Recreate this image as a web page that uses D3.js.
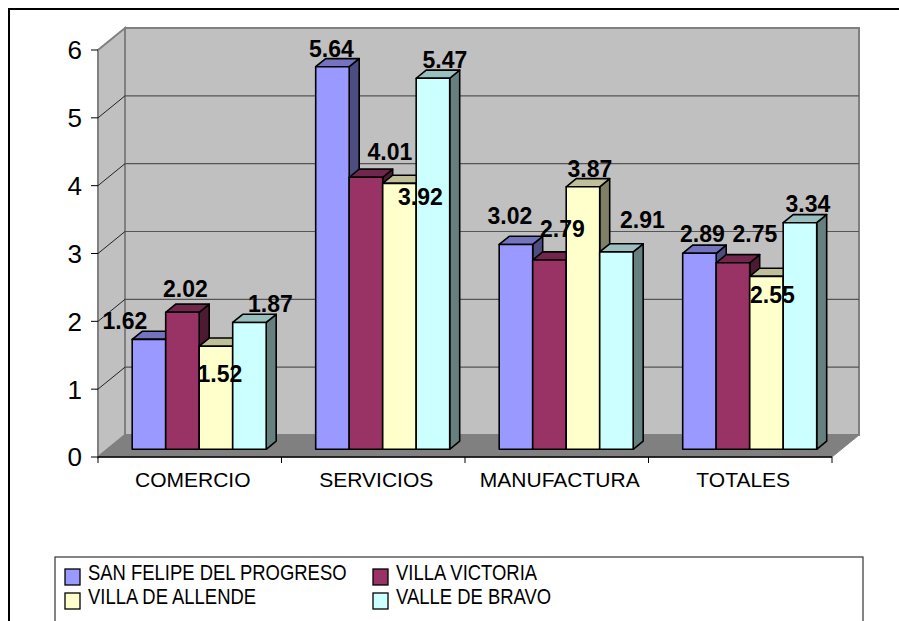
<!DOCTYPE html>
<html>
<head>
<meta charset="utf-8">
<script src="https://cdn.jsdelivr.net/npm/d3@7"></script>
<style>
  body { margin: 0; background: #fff; }
  text { font-family: Arial, "Liberation Sans", sans-serif; }
</style>
</head>
<body>
<script>
const categories = ["COMERCIO", "SERVICIOS", "MANUFACTURA", "TOTALES"];
const seriesNames = ["SAN FELIPE DEL PROGRESO", "VILLA VICTORIA", "VILLA DE ALLENDE", "VALLE DE BRAVO"];
const sanFelipe = [1.62, 5.64, 3.02, 2.89];
const villaVictoria = [2.02, 4.01, 2.79, 2.75];
const villaAllende = [1.52, 3.92, 3.87, 2.55];
const valleBravo = [1.87, 5.47, 2.91, 3.34];
const yTicks = [0, 1, 2, 3, 4, 5, 6];

const seriesValues = [sanFelipe, villaVictoria, villaAllende, valleBravo];

// front / top / side colours per series
const colors = [
  {front: "#9999ff", top: "#7373bf", side: "#4d4d80"},
  {front: "#993366", top: "#73264d", side: "#4d1a33"},
  {front: "#ffffcc", top: "#bfbf99", side: "#808066"},
  {front: "#ccffff", top: "#99bfbf", side: "#668080"}
];

// hand-placed label nudges, like in the original sheet [series][category]
const labelShift = [
  [[-27, 0], [-4, 0], [-9, -10], [0, -1]],
  [[0, -5], [21, -7], [10, -13], [19, -11]],
  [[1, 46], [18, 32], [4, 0], [3, 37]],
  [[18, 0], [9, 0], [23, -14], [5, -1]]
];

const W = 899, H = 621;
const DX = 27, DY = 22;     // depth of the 3d box
const f1 = 0.35, f2 = 0.72; // bar depth inside the box

const svg = d3.select("body").append("svg")
  .attr("width", W).attr("height", H);

const x = d3.scaleBand().domain(categories).range([98, 832]).padding(0);
const xs = d3.scaleBand().domain(d3.range(4))
  .range([24.75, x.bandwidth() - 24.75]).padding(0);
const y = d3.scaleLinear().domain([0, 6]).range([457, 50]);

const P = (px, v, f) => [px + DX * f, y(v) - DY * f];
const line = d3.line();

// outer frame
svg.append("rect")
  .attr("x", 9).attr("y", 9).attr("width", 1000).attr("height", 1000)
  .attr("fill", "none").attr("stroke", "#000").attr("stroke-width", 2);

const x0 = x.range()[0], x1 = x.range()[1];
const walls = svg.append("g");

// side wall
walls.append("path")
  .attr("d", line([P(x0, 0, 0), P(x0, 6, 0), P(x0, 6, 1), P(x0, 0, 1)]) + "Z")
  .attr("fill", "#c0c0c0").attr("stroke", "#808080").attr("stroke-width", 2);
// back wall
walls.append("path")
  .attr("d", line([P(x0, 0, 1), P(x0, 6, 1), P(x1, 6, 1), P(x1, 0, 1)]) + "Z")
  .attr("fill", "#c0c0c0").attr("stroke", "#808080").attr("stroke-width", 2);

// gridlines
const grid = yTicks.filter(d => d > 0 && d < 6);
walls.selectAll(".gback").data(grid).enter().append("path")
  .attr("d", d => line([P(x0, d, 1), P(x1, d, 1)]))
  .attr("stroke", "#555").attr("stroke-width", 1.2);
walls.selectAll(".gside").data(grid).enter().append("path")
  .attr("d", d => line([P(x0, d, 0), P(x0, d, 1)]))
  .attr("stroke", "#222").attr("stroke-width", 1);

// floor
walls.append("path")
  .attr("d", line([P(x0, 0, 0), P(x0, 0, 1), P(x1, 0, 1), P(x1, 0, 0)]) + "Z")
  .attr("fill", "#808080").attr("stroke", "#808080").attr("stroke-width", 1);

// axes
const axes = svg.append("g");
axes.append("line")
  .attr("x1", x0).attr("x2", x1).attr("y1", y(0)).attr("y2", y(0))
  .attr("stroke", "#000").attr("stroke-width", 1.5);
axes.selectAll(".xt").data(categories.map(c => x(c)).concat([x1])).enter().append("line")
  .attr("x1", d => d).attr("x2", d => d).attr("y1", y(0)).attr("y2", y(0) + 6)
  .attr("stroke", "#000").attr("stroke-width", 1);
axes.selectAll(".yt").data(yTicks).enter().append("line")
  .attr("x1", x0 - 7).attr("x2", x0).attr("y1", d => y(d)).attr("y2", d => y(d))
  .attr("stroke", "#000").attr("stroke-width", 1);
axes.selectAll(".yl").data(yTicks).enter().append("text")
  .attr("x", 82).attr("y", d => y(d)).attr("dy", "0.36em")
  .attr("text-anchor", "end").attr("font-size", 26)
  .text(d => d);
axes.selectAll(".xl").data(categories).enter().append("text")
  .attr("x", d => x(d) + x.bandwidth() / 2 + 3).attr("y", 487)
  .attr("text-anchor", "middle").attr("font-size", 21)
  .text(d => d);

// bars
const bars = svg.append("g");
categories.forEach((cat, ci) => {
  seriesValues.forEach((vals, si) => {
    const v = vals[ci];
    const bx0 = x(cat) + xs(si), bx1 = bx0 + xs.bandwidth();
    const c = colors[si];
    const g = bars.append("g")
      .attr("stroke", "#000").attr("stroke-width", 1.6).attr("stroke-linejoin", "round");
    g.append("path")
      .attr("d", line([P(bx1, 0, f1), P(bx1, 0, f2), P(bx1, v, f2), P(bx1, v, f1)]) + "Z")
      .attr("fill", c.side);
    g.append("path")
      .attr("d", line([P(bx0, v, f1), P(bx1, v, f1), P(bx1, v, f2), P(bx0, v, f2)]) + "Z")
      .attr("fill", c.top);
    g.append("path")
      .attr("d", line([P(bx0, 0, f1), P(bx1, 0, f1), P(bx1, v, f1), P(bx0, v, f1)]) + "Z")
      .attr("fill", c.front);
  });
});

// value labels on top
const labels = svg.append("g");
categories.forEach((cat, ci) => {
  seriesValues.forEach((vals, si) => {
    const v = vals[ci];
    const top = P(x(cat) + xs(si) + xs.bandwidth() / 2, v, f1);
    const s = labelShift[si][ci];
    labels.append("text")
      .attr("x", top[0] + 3 + s[0]).attr("y", top[1] - 10 + s[1])
      .attr("text-anchor", "middle").attr("font-size", 23).attr("font-weight", "bold")
      .text(d3.format(".2f")(v));
  });
});

// legend
const legend = svg.append("g");
legend.append("rect")
  .attr("x", 55).attr("y", 557).attr("width", 808).attr("height", 200)
  .attr("fill", "#fff").attr("stroke", "#333").attr("stroke-width", 1.2);
const legCols = [65, 373], legRows = [569, 593];
seriesNames.forEach((name, i) => {
  const lx = legCols[i % 2], ly = legRows[Math.floor(i / 2)];
  legend.append("rect")
    .attr("x", lx).attr("y", ly).attr("width", 15).attr("height", 16)
    .attr("fill", colors[i].front).attr("stroke", "#000").attr("stroke-width", 1.3);
  legend.append("text")
    .attr("transform", `translate(${lx + 23},${ly + 11}) scale(0.82,1)`)
    .attr("font-size", 22.5)
    .text(name);
});
</script>
</body>
</html>
